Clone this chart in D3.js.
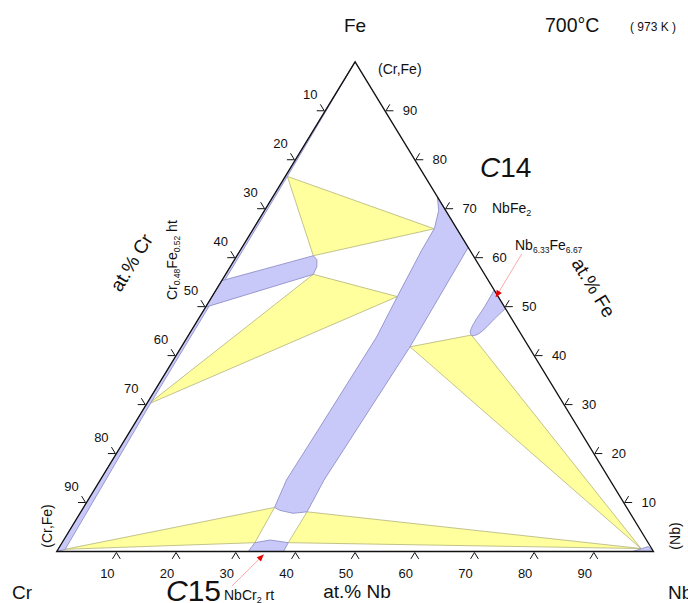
<!DOCTYPE html>
<html><head><meta charset="utf-8">
<script src="https://cdn.jsdelivr.net/npm/d3@7"></script>
<style>
html,body{margin:0;padding:0;background:#fff;}
svg{display:block;font-family:"Liberation Sans",Arial,Helvetica,sans-serif;}
</style></head>
<body>
<svg id="chart" width="688" height="603"></svg>
<script>
// ---- data: compositions as [at.% Nb, at.% Fe] ----
const tickValues = [10, 20, 30, 40, 50, 60, 70, 80, 90];
const crFeSolid = [[0,0],[1.2,0.4],[0.6,30],[0.35,76.6],[0,100]];
const nbSolid = [[96.5,0],[100,0],[98.6,1.0]];
const c14Phase = [[27.6,72.4],[29.2,69.6],[30.3,66.0],[30.4,61.5],[31.05,52.05],[31.7,43.8],[31.4,25],[31.2,14.6],[32.0,9.0],[33.2,8.4],[35.7,7.8],[37.9,8.1],[37.5,14.6],[38.3,41.8],[37.9,62.1]];
const c15Phase = [[32.1,0],[32.3,1.8],[34.6,2.35],[37.9,1.8],[38.0,0]];
const sigmaPhase = [[0,55.3],[12.8,60.4],[13.8,59.6],[14.5,58.2],[14.7,56.6],[0,49.9]];
const muPhase = [[46.6,53.4],[46.7,50],[46.6,46.5],[46.9,44.8],[47.5,44.1],[48.3,44.3],[49.0,45.5],[49.6,47.5],[50.4,49.6]];
const tieTriangles = [
  [[0.35,76.6],[12.8,60.4],[30.3,65.9]],
  [[14.7,56.6],[31.05,52.05],[0.3,30.1]],
  [[1.2,0.45],[32.0,9.0],[32.3,1.8]],
  [[37.9,8.1],[37.9,1.8],[97.6,0.6]],
  [[38.3,41.8],[47.4,44.2],[97.6,0.6]]
];
const arrowNb6Fe7 = {from:[521.7,254], to:[47.6,51.9]};
const arrowC15 = {from:[232,586], to:[35.0,-0.6]};

// ---- geometry ----
const svg = d3.select("#chart");
const xs = d3.scaleLinear().domain([0,100]).range([56.7, 653.5]);
const ys = d3.scaleLinear().domain([0,100]).range([551.5, 61.8]);
const proj = d => [xs(d[0] + d[1]/2), ys(d[1])];
const line = d3.line();
const closed = pts => line(pts.map(proj)) + "Z";

const BLUE = "#c9c9f9", BLUE_S = "#8585c4";
const YEL = "#ffff9e", YEL_S = "#b4b47a";

// tie triangles
svg.append("g").selectAll("path").data(tieTriangles).join("path")
  .attr("d", closed).attr("fill", YEL).attr("stroke", YEL_S).attr("stroke-width", 0.8);

// single phase regions
const phases = [crFeSolid, nbSolid, c14Phase, c15Phase, sigmaPhase];
svg.append("g").selectAll("path").data(phases).join("path")
  .attr("d", closed).attr("fill", BLUE).attr("stroke", BLUE_S).attr("stroke-width", 0.8);
// mu phase (rounded)
const curved = d3.line().curve(d3.curveCatmullRom.alpha(0.5));
svg.append("path").attr("d", curved(muPhase.map(proj)) + "Z")
  .attr("fill", BLUE).attr("stroke", BLUE_S).attr("stroke-width", 0.8);

// triangle frame
const corners = [[0,0],[100,0],[0,100]];
svg.append("path").attr("d", closed(corners)).attr("fill", "none")
  .attr("stroke", "#111").attr("stroke-width", 1.3).attr("stroke-linejoin", "miter");

// ticks
const A = proj([0,100]), C = proj([0,0]), N = proj([100,0]);
const unit = (p,q) => { const dx=q[0]-p[0], dy=q[1]-p[1], l=Math.hypot(dx,dy); return [dx/l, dy/l]; };
const dL = unit(C, A);   // along left side (up-right)
const dR = unit(A, N);   // along right side (down-right)
const TL = 7.5;
const tickG = svg.append("g").attr("stroke", "#111").attr("stroke-width", 1).attr("fill", "none");
const labG = svg.append("g").attr("font-size", "13px").attr("fill", "#111").attr("text-anchor", "middle").attr("dominant-baseline", "central");
const drawTick = (p, a, b) => {
  tickG.append("path").attr("d", `M${p[0]+a[0]*TL},${p[1]+a[1]*TL}L${p[0]},${p[1]}L${p[0]+b[0]*TL},${p[1]+b[1]*TL}`);
};
tickValues.forEach(t => {
  // bottom axis: at.% Nb
  const pb = proj([t,0]); pb[1] += 1;
  drawTick(pb, [-dL[0], -dL[1]], dR);
  labG.append("text").attr("x", pb[0]-9).attr("y", pb[1]+21).text(t);
  // right axis: at.% Fe
  const pr = proj([100-t, t]); pr[0] += 1;
  drawTick(pr, [1,0], dL);
  labG.append("text").attr("x", pr[0]+24).attr("y", pr[1]).text(t);
  // left axis: at.% Cr
  const pl = proj([0, 100-t]); pl[0] -= 1;
  drawTick(pl, [-1,0], [-dR[0], -dR[1]]);
  labG.append("text").attr("x", pl[0]-14).attr("y", pl[1]-16.5).text(t);
});

// arrows
function arrow(a) {
  const s = a.from, e = proj(a.to);
  svg.append("line").attr("x1", s[0]).attr("y1", s[1]).attr("x2", e[0]).attr("y2", e[1])
    .attr("stroke", "#ffa8a8").attr("stroke-width", 1);
  const u = unit(s, e), n = [-u[1], u[0]], hl = 7, hw = 3;
  const b = [e[0]-u[0]*hl, e[1]-u[1]*hl];
  svg.append("path").attr("d", `M${e[0]},${e[1]}L${b[0]+n[0]*hw},${b[1]+n[1]*hw}L${b[0]-n[0]*hw},${b[1]-n[1]*hw}Z`)
    .attr("fill", "#e80000");
}
arrow(arrowNb6Fe7);
arrow(arrowC15);

// texts
const T = (x, y, size, txt, opts={}) => {
  const t = svg.append("text").attr("x", x).attr("y", y).attr("font-size", size+"px").attr("fill", "#111");
  if (opts.anchor) t.attr("text-anchor", opts.anchor);
  if (opts.rot !== undefined) t.attr("transform", `rotate(${opts.rot},${x},${y})`);
  if (typeof txt === "string") t.text(txt);
  else txt.forEach(s => {
    const sp = t.append("tspan").text(s.t);
    if (s.size) sp.attr("font-size", s.size+"px");
    if (s.dy) sp.attr("dy", s.dy);
    if (s.it) sp.attr("font-style", "italic");
  });
  return t;
};
T(355, 32, 19, "Fe", {anchor:"middle"});
T(545, 32, 19.5, "700°C");
T(630, 31, 12, "( 973 K )");
T(378, 74, 14, "(Cr,Fe)");
T(480, 177, 28, [{t:"C", it:true},{t:"14"}]);
T(492, 213, 14, [{t:"NbFe"},{t:"2", size:9, dy:3}]);
T(515, 250, 14, [{t:"Nb"},{t:"6.33", size:8.5, dy:3},{t:"Fe", dy:-3},{t:"6.67", size:8.5, dy:3}]);
T(588, 291, 19, "at.% Fe", {anchor:"middle", rot:58.6});
T(137, 266, 19, "at.% Cr", {anchor:"middle", rot:-58.6});
T(177, 300, 14, [{t:"Cr"},{t:"0.48", size:8.5, dy:3},{t:"Fe", dy:-3},{t:"0.52", size:8.5, dy:3},{t:" ht", dy:-3}], {rot:-90});
T(52, 526, 14, "(Cr,Fe)", {anchor:"middle", rot:-90});
T(680, 536, 14, "(Nb)", {anchor:"middle", rot:-90});
T(12, 599, 19, "Cr");
T(668, 599, 19, "Nb");
T(357, 598, 19, "at.% Nb", {anchor:"middle"});
T(166, 601, 30, [{t:"C", it:true},{t:"15"}]);
T(224, 600, 14, [{t:"NbCr"},{t:"2", size:9, dy:3},{t:" rt", dy:-3}]);
</script>
</body></html>
